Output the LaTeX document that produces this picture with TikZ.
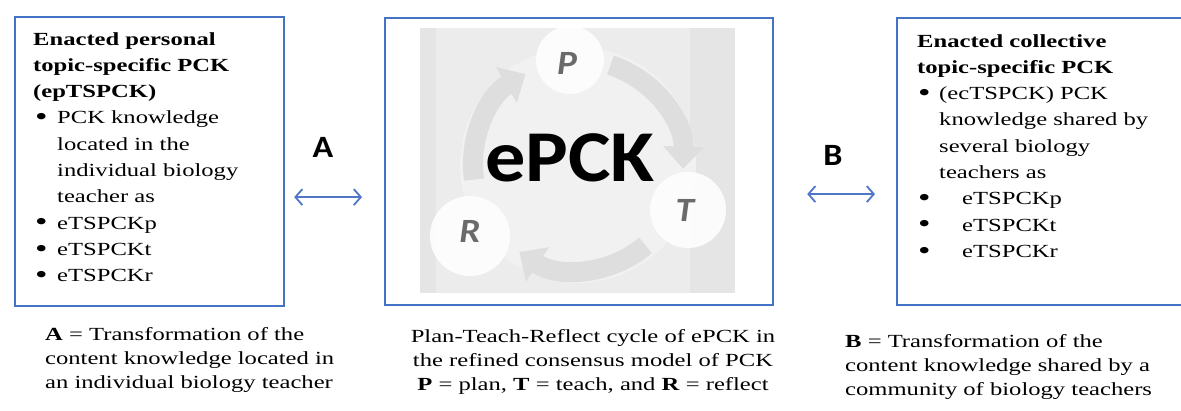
\documentclass[tikz,border=0pt]{standalone}
\usepackage{fontspec}
\setmainfont{Liberation Serif}[FakeStretch=1.33]
\newfontfamily\calib{Carlito}[FakeStretch=1.1]
\usetikzlibrary{arrows.meta}
\definecolor{boxblue}{HTML}{4472C4}
\definecolor{arrblue}{HTML}{5076C8}
\definecolor{cycgray}{HTML}{DEDEDE}
\definecolor{bgdark}{HTML}{E5E5E5}
\definecolor{bglight}{HTML}{ECECEC}
\definecolor{bgcenter}{HTML}{F1F1F1}
\definecolor{lettergray}{HTML}{6A6A6A}
\newcommand\bigbul{\raisebox{-1.6pt}{\scalebox{1.45}{\textbullet}}}
\newcommand\bul{\hspace*{2pt}\makebox[22pt][l]{\bigbul}}
\newcommand\ind{\hspace*{24pt}}
\newcommand\bulr{\hspace*{1pt}\makebox[21pt][l]{\bigbul}}
\newcommand\indr{\hspace*{22pt}}
\newcommand\bulw{\hspace*{1pt}\makebox[44pt][l]{\bigbul}}
\begin{document}
\begin{tikzpicture}[x=1pt,y=-1pt,
  frame/.style={draw=boxblue,line width=2.2pt,inner sep=0,anchor=north west},
  body/.style={font=\fontsize{18.5}{26.3}\selectfont,align=left,inner sep=0,anchor=north west},
  note/.style={font=\fontsize{18.5}{24}\selectfont,inner sep=0,anchor=north west},
  link/.style={draw=arrblue,line width=1.8pt,{Straight Barb[length=7pt,width=16pt]}-{Straight Barb[length=7pt,width=16pt]}},
  lab/.style={font=\calib\bfseries\fontsize{31}{31}\selectfont,inner sep=0},
  cyl/.style={font=\calib\bfseries\itshape\fontsize{34}{34}\selectfont,text=lettergray,inner sep=0,anchor=base},
  cycarc/.style={draw=cycgray,line width=20pt,-{Triangle[length=22pt,width=40pt]}},
]
\useasboundingbox (0,0) rectangle (1181,411);
\fill[white] (0,0) rectangle (1181,411);

% boxes
\node[frame,minimum width=269pt,minimum height=289pt] (lbox) at (14,16) {};
\node[frame,minimum width=388pt,minimum height=287pt] (cbox) at (384,17) {};
\node[frame,minimum width=304pt,minimum height=287pt] (rbox) at (896,17) {};

% cycle picture
\begin{scope}
\clip (420,28) rectangle (735,293);
\fill[bgdark] (420,28) rectangle (735,293);
\fill[bglight] (436,28) rectangle (690,293);
\fill[bgcenter] (578,165) circle (118);
\draw[cycarc] (578,165) ++(-72:105) arc (-72:2:105);
\draw[cycarc] (578,165) ++(50:105) arc (50:124:105);
\draw[cycarc] (578,165) ++(172:105) arc (172:240:105);
\fill[white,opacity=0.85] (570,60) circle (34);
\fill[white,opacity=0.85] (688,210) circle (38);
\fill[white,opacity=0.85] (470,236) circle (40);
\end{scope}
\node[cyl] (pl) at (567,75) {P};
\node[cyl] (tl) at (685,222) {T};
\node[cyl] (rl) at (470,243) {R};
\node[font=\calib\bfseries\fontsize{73}{73}\selectfont,inner sep=0,anchor=base] (ep) at (570,182) {ePCK};

% left box text
\node[body] (ltext) at (33,32) {\textbf{Enacted personal}\\
\textbf{topic-specific PCK}\\
\textbf{(epTSPCK)}\\
\bul PCK knowledge\\
\ind located in the\\
\ind individual biology\\
\ind teacher as\\
\bul eTSPCKp\\
\bul eTSPCKt\\
\bul eTSPCKr};

% right box text
\node[body] (rtext) at (917,34) {\textbf{Enacted collective}\\
\textbf{topic-specific PCK}\\
\bulr (ecTSPCK) PCK\\
\indr knowledge shared by\\
\indr several biology\\
\indr teachers as\\
\bulw eTSPCKp\\
\bulw eTSPCKt\\
\bulw eTSPCKr};

% connectors
\node[lab] (la) at (323,147) {A};
\node[lab] (lb) at (833,155) {B};
\draw[link,shorten <=9pt,shorten >=22pt] ([yshift=-35.5pt]lbox.east) -- ([yshift=-35.5pt]cbox.west);
\draw[link,shorten <=33pt,shorten >=21pt] ([yshift=-32.5pt]cbox.east) -- ([yshift=-32.5pt]rbox.west);

% captions
\node[note,align=left] (ca) at (45,327) {\textbf{A} = Transformation of the\\content knowledge located in\\an individual biology teacher};
\node[note,align=center,anchor=north] (cc) at (593,329) {Plan-Teach-Reflect cycle of ePCK in\\the refined consensus model of PCK\\\textbf{P} = plan, \textbf{T} = teach, and \textbf{R} = reflect};
\node[note,align=left] (cb) at (845,334) {\textbf{B} = Transformation of the\\content knowledge shared by a\\community of biology teachers};
\end{tikzpicture}
\end{document}
